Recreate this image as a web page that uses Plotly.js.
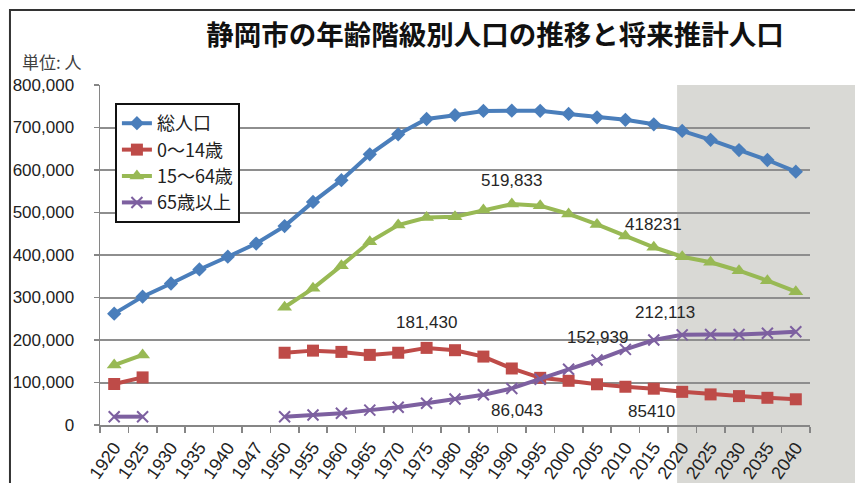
<!DOCTYPE html>
<html>
<head>
<meta charset="utf-8">
<script src="https://cdn.plot.ly/plotly-3.0.1.min.js"></script>
<style>html,body{margin:0;padding:0;background:#fff;}#chart{width:855px;height:483px;}</style>
</head>
<body>
<div id="chart"></div>
<script>
// ---- data ----
var categories = ['1920','1925','1930','1935','1940','1947','1950','1955','1960','1965','1970','1975','1980','1985','1990','1995','2000','2005','2010','2015','2020','2025','2030','2035','2040'];
var seriesNames = ['総人口', '0～14歳', '15～64歳', '65歳以上'];
var total    = [262000, 302000, 333000, 366000, 396000, 427000, 468000, 525000, 576000, 637000, 684000, 720000, 729000, 739000, 739600, 739300, 732000, 724000, 718000, 707500, 692000, 671000, 647000, 623500, 596000];
var age0_14  = [96500, 112000, null, null, null, null, 170000, 175000, 172000, 165000, 170000, 181430, 176000, 161000, 133000, 111000, 104000, 95800, 90000, 85410, 78000, 72000, 68000, 64000, 60500];
var age15_64 = [141000, 165000, null, null, null, null, 277000, 321600, 375000, 431000, 470600, 488000, 490000, 506000, 519833, 516000, 496500, 472000, 445000, 418231, 396000, 383000, 363000, 339600, 313700];
var age65    = [19600, 19600, null, null, null, null, 19600, 23500, 27500, 35000, 41600, 51000, 61000, 71000, 86043, 107500, 131000, 152939, 178000, 200000, 212113, 213000, 213000, 215700, 219600];
var projectionStart = '2020';
// data labels
var labelSeries = [2, 1, 2, 3, 3, 1, 3];
var labelCats   = ['1990', '1975', '2015', '2005', '2020', '2015', '1990'];
var labelTexts  = ['519,833', '181,430', '418231', '152,939', '212,113', '85410', '86,043'];

// ---- styles ----
var allSeries = [total, age0_14, age15_64, age65];
var colors = ['#4a7ebb', '#be4b48', '#98b954', '#7d60a0'];
var symbols = ['diamond', 'square', 'triangle-up', 'x-thin-open'];
var msizes = [11, 12, 13, 11];
var labelShiftY = [24, 25, 23, 23, 22, -23, -22];
var labelShiftX = [0, 0, 0, 0, -17, -2, 5];
var numFont = 'Liberation Sans, Arial, Noto Sans CJK JP, sans-serif';
var jpFont = 'Noto Sans CJK JP, sans-serif';

var traces = allSeries.map(function (vals, i) {
  return {
    type: 'scatter', mode: 'lines+markers', name: seriesNames[i],
    x: categories, y: vals, connectgaps: false,
    line: {color: colors[i], width: 4},
    marker: {symbol: symbols[i], size: msizes[i], color: colors[i],
             line: {color: colors[i], width: i === 3 ? 2 : 0}}
  };
});

var annotations = labelTexts.map(function (t, k) {
  var idx = categories.indexOf(labelCats[k]);
  return {
    x: idx, y: allSeries[labelSeries[k]][idx], xref: 'x', yref: 'y',
    text: t, showarrow: false, xanchor: 'center', yanchor: 'middle',
    xshift: labelShiftX[k], yshift: labelShiftY[k],
    font: {family: numFont, size: 17, color: '#262626'}
  };
});
annotations.push({
  xref: 'paper', yref: 'paper', x: -0.113, y: 1.068, xanchor: 'left', yanchor: 'middle',
  text: '単位: 人', showarrow: false, font: {family: jpFont, size: 17, color: '#404040'}
});

var n = categories.length;
var shadeStart = (categories.indexOf(projectionStart) - 0.18 + 0.5) / n;

var layout = {
  width: 855, height: 483,
  margin: {l: 100, r: 45, t: 85, b: 58},
  paper_bgcolor: '#ffffff', plot_bgcolor: 'rgba(0,0,0,0)',
  title: {
    text: '静岡市の年齢階級別人口の推移と将来推計人口',
    font: {family: jpFont, size: 27.5, weight: 'bold', color: '#111111'},
    xref: 'container', yref: 'container', x: 0.579, y: 0.927, xanchor: 'center', yanchor: 'middle'
  },
  xaxis: {
    type: 'category', range: [-0.5, n - 0.5],
    showgrid: false, zeroline: false,
    showline: true, linecolor: '#868686', linewidth: 2,
    ticks: 'outside', tickson: 'boundaries', ticklen: 6, tickcolor: '#868686', tickwidth: 1.5,
    tickangle: -55, ticklabelstandoff: 3,
    tickfont: {family: numFont, size: 18, color: '#222222'}
  },
  yaxis: {
    range: [0, 800000], dtick: 100000, tickformat: ',d',
    showgrid: true, gridcolor: '#8e8e8e', gridwidth: 2,
    zeroline: false, showline: true, linecolor: '#868686', linewidth: 1.5,
    ticks: 'outside', ticklen: 5, tickcolor: '#868686', tickwidth: 1.5,
    ticklabelstandoff: 16,
    tickfont: {family: numFont, size: 17, color: '#222222'}
  },
  legend: {
    x: 0.021, y: 0.947, xanchor: 'left', yanchor: 'top',
    bgcolor: '#ffffff', bordercolor: '#111111', borderwidth: 2,
    font: {family: jpFont, size: 18, color: '#222222'},
    tracegroupgap: 0, itemclick: false
  },
  shapes: [
    {type: 'rect', xref: 'paper', yref: 'paper', x0: shadeStart, x1: 1.08, y0: -0.2, y1: 1.0,
     fillcolor: '#d9d9d5', line: {width: 0}, layer: 'below'},
    {type: 'rect', xref: 'paper', yref: 'paper', x0: -0.1268, x1: 1.1, y0: -0.2, y1: 1.2206,
     fillcolor: 'rgba(0,0,0,0)', line: {color: '#333333', width: 2}, layer: 'below'}
  ],
  annotations: annotations,
  showlegend: true
};

Plotly.newPlot('chart', traces, layout, {displayModeBar: false, staticPlot: true});
</script>
</body>
</html>
